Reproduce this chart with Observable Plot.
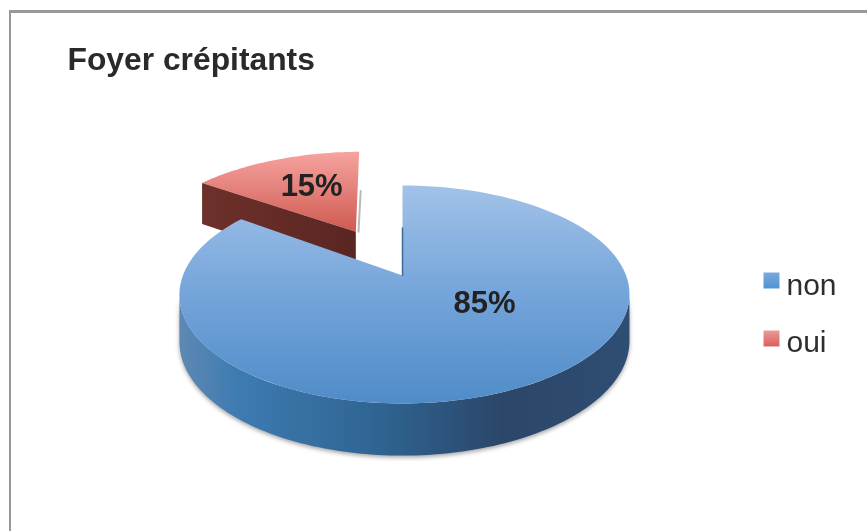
<!DOCTYPE html>
<html><head><meta charset="utf-8">
<script src="https://cdn.jsdelivr.net/npm/d3@7"></script>
<script src="https://cdn.jsdelivr.net/npm/@observablehq/plot@0.6"></script>
<style>
html,body{margin:0;padding:0;background:#fff;width:867px;height:531px;overflow:hidden}
#c{position:absolute;left:0;top:0;filter:blur(.4px)}
#f{position:absolute;left:9px;top:10px;right:0;bottom:0;border-left:2px solid #999;border-top:3px solid #999}
</style></head><body>
<div id="c"></div><div id="f"></div>
<script>
const chartTitle = "Foyer crépitants";
const categories = ["non", "oui"];
const shares = [85, 15];
const explode = [0, 0.5];

// Tilted-disc perspective: u,v on unit disc -> chart units
const K = 0.174;
const project = (u, v, z = 0) => {
  const den = 1 - K * v;
  return {x: u / den, y: v / den + z * (0.142 + 0.29 / den)};
};
const total = d3.sum(shares);
function slice(i) {
  const a0 = i === 0 ? 0 : shares[0] / total * 2 * Math.PI;
  const a1 = a0 + shares[i] / total * 2 * Math.PI;
  const mid = (a0 + a1) / 2, e = explode[i];
  // the exploded slice sits slightly larger and turned, as in a perspective pie
  return {a0, a1, ou: e * Math.sin(mid), ov: -e * Math.cos(mid), r: i ? 1.025 : 1, turn: i ? -0.018 : 0, side: i ? 0 : 0.009};
}
const rim = (s, a, z = 0) => {
  const t = a + s.turn;
  const p = project(s.ou + s.r * Math.sin(t), s.ov - s.r * Math.cos(t), z);
  return {x: p.x + s.side * Math.sin(t) ** 2, y: p.y};
};
const apex = (s, z = 0) => project(s.ou, s.ov, z);
const sweep = (a0, a1, n = 120) => d3.range(n + 1).map(j => a0 + (a1 - a0) * j / n);

const [blue, red] = [slice(0), slice(1)];
const blueTop = [apex(blue), ...sweep(blue.a0, blue.a1).map(a => rim(blue, a))];
const redTop = [apex(red), ...sweep(red.a0, red.a1, 40).map(a => rim(red, a))];
const redWall = [rim(red, red.a0), apex(red), apex(red, 1), rim(red, red.a0, 1)];
const frontAngles = sweep(100 * Math.PI / 180, 260 * Math.PI / 180);
const blueSide = [...frontAngles.map(a => rim(blue, a)), ...frontAngles.slice().reverse().map(a => rim(blue, a, 1))];
const blueSeam = [apex(blue), {x: apex(blue).x, y: -0.45}];
const redSeam = [{x: apex(red).x + 0.012, y: apex(red).y}, {x: apex(red).x + 0.022, y: -0.8}];

const defs = () => {
  const ns = "http://www.w3.org/2000/svg";
  const d = document.createElementNS(ns, "defs");
  d.innerHTML = `
  <linearGradient id="gBlue" x1="0" y1="0" x2="0" y2="1"><stop offset="0" stop-color="#a2c2e8"/><stop offset=".5" stop-color="#74a4da"/><stop offset="1" stop-color="#4f8cc8"/></linearGradient>
  <linearGradient id="gRed" x1="0" y1="0" x2="0" y2="1"><stop offset="0" stop-color="#f6a3a0"/><stop offset="1" stop-color="#cf5a50"/></linearGradient>
  <linearGradient id="gWall" x1="0" y1="0" x2="1" y2="0"><stop offset="0" stop-color="#6e302a"/><stop offset="1" stop-color="#5a2622"/></linearGradient>
  <linearGradient id="gSide" x1="0" y1="0" x2="1" y2="0"><stop offset="0" stop-color="#5f88b4"/><stop offset=".13" stop-color="#3d7bb1"/><stop offset=".45" stop-color="#2f6391"/><stop offset=".72" stop-color="#2b4668"/><stop offset="1" stop-color="#2f4e73"/></linearGradient>
  <linearGradient id="gSwB" x1="0" y1="0" x2="0" y2="1"><stop offset="0" stop-color="#7ba9dc"/><stop offset="1" stop-color="#4f92d4"/></linearGradient>
  <linearGradient id="gSwR" x1="0" y1="0" x2="0" y2="1"><stop offset="0" stop-color="#e99a98"/><stop offset="1" stop-color="#d9605c"/></linearGradient>`;
  return d;
};
const poly = (pts, fill, extra = {}) => Plot.line(pts, {x: "x", y: "y", fill, stroke: "none", ...extra});
const font = "Liberation Sans";
const legendRows = categories.map((c, i) => ({c, i}));
const labelAt = [{x: 0.37, y: 0.265}, {x: -0.41, y: -0.85}];

const chart = Plot.plot({
  width: 867, height: 531, margin: 0,
  style: {background: "#fff", fontFamily: font},
  x: {domain: [-402 / 221.6, 465 / 221.6], range: [0, 867], axis: null},
  y: {domain: [-275 / 105.7, 256 / 105.7], range: [0, 531], axis: null},
  marks: [
    defs,
    Plot.line(redSeam, {x: "x", y: "y", stroke: "#8a8a8a", strokeWidth: 2, strokeOpacity: .6}),
    poly(redTop, "url(#gRed)"),
    poly(redWall, "url(#gWall)"),
    poly(blueSide, "url(#gSide)", {imageFilter: "drop-shadow(0 2px 2px rgba(90,90,90,.55))"}),
    poly(blueTop, "url(#gBlue)"),
    Plot.line(blueSeam, {x: "x", y: "y", stroke: "#3f6a99", strokeWidth: 1.5}),
    Plot.text(shares.map((v, i) => ({t: v + "%", ...labelAt[i]})), {
      x: "x", y: "y", text: "t", fontSize: 31, fontWeight: "bold", fill: "#222", fontFamily: font
    }),
    Plot.text([chartTitle], {
      frameAnchor: "top-left", dx: 67, dy: 59, text: d => d, lineAnchor: "middle",
      textAnchor: "start", fontSize: 31.8, fontWeight: "bold", fill: "#2a2a2a", fontFamily: font
    }),
    ...legendRows.map(({c, i}) => [
      Plot.dot([c], {frameAnchor: "top-left", dx: 771, dy: 280 + i * 58, r: 9, symbol: "square", stroke: "none",
        fill: i ? "url(#gSwR)" : "url(#gSwB)"}),
      Plot.text([c], {frameAnchor: "top-left", dx: 786, dy: 285 + i * 57, text: d => d, lineAnchor: "middle",
        textAnchor: "start", fontSize: 30, fill: "#2e2e2e", fontFamily: font})
    ]).flat()
  ]
});
document.getElementById("c").append(chart);
</script></body></html>
